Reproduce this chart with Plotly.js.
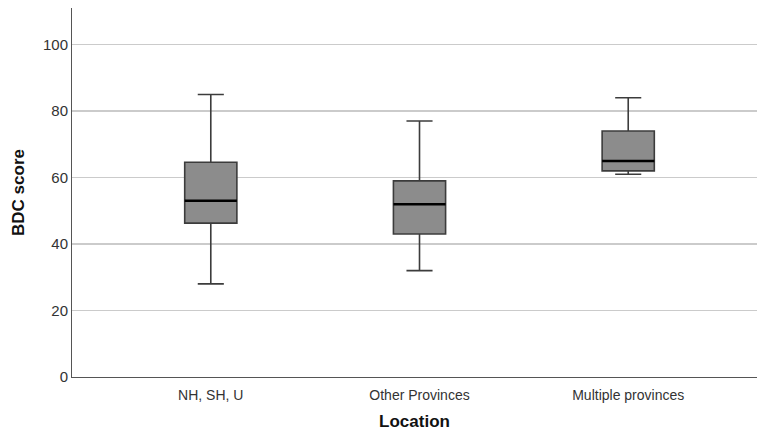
<!DOCTYPE html>
<html>
<head>
<meta charset="utf-8">
<script src="https://cdn.plot.ly/plotly-3.0.1.min.js"></script>
<style>html,body{margin:0;padding:0;background:#fff;}#chart{width:758px;height:431px;}</style>
</head>
<body>
<div id="chart"></div>
<script>
const categories = ["NH, SH, U", "Other Provinces", "Multiple provinces"];
const lowerWhisker = [28, 32, 61];
const q1Values = [46.3, 43, 62];
const medianValues = [53, 52, 65];
const q3Values = [64.6, 59, 74];
const upperWhisker = [85, 77, 84];
const yTicks = [0, 20, 40, 60, 80, 100];

const xIdx = categories.map((c, i) => i);

const boxTrace = {
  type: 'box',
  x: xIdx,
  q1: q1Values,
  median: medianValues,
  q3: q3Values,
  lowerfence: lowerWhisker,
  upperfence: upperWhisker,
  width: 0.25,
  whiskerwidth: 0.5,
  fillcolor: '#8c8c8c',
  line: {color: '#3c3c3c', width: 1.6},
  hoverinfo: 'skip',
  showlegend: false
};
const medianTrace = {
  type: 'box',
  x: xIdx,
  q1: medianValues,
  median: medianValues,
  q3: medianValues,
  lowerfence: medianValues,
  upperfence: medianValues,
  width: 0.25,
  whiskerwidth: 0,
  fillcolor: 'rgba(0,0,0,0)',
  line: {color: '#000000', width: 2.5},
  hoverinfo: 'skip',
  showlegend: false
};

const layout = {
  width: 758, height: 431,
  margin: {l: 72, r: 1, t: 8, b: 54},
  paper_bgcolor: '#fff', plot_bgcolor: '#fff',
  boxmode: 'overlay',
  font: {family: 'Liberation Sans, Arial, sans-serif', color: '#333'},
  xaxis: {
    range: [-0.665, 2.617],
    tickvals: xIdx, ticktext: categories,
    showgrid: false, zeroline: false,
    showline: true, linecolor: '#555', linewidth: 1,
    ticks: 'outside', ticklen: 5, tickcolor: 'rgba(0,0,0,0)',
    tickfont: {size: 14, color: '#333'},
    title: {text: '<b>Location</b>', font: {size: 17, color: '#111'}, standoff: 18}
  },
  yaxis: {
    range: [0, 111],
    tickvals: yTicks,
    showgrid: true, gridcolor: '#cbcbcb', gridwidth: 1.5,
    zeroline: false,
    showline: true, linecolor: '#555', linewidth: 1,
    ticks: '', tickfont: {size: 15, color: '#333'},
    title: {text: '<b>BDC score</b>', font: {size: 17, color: '#111'}, standoff: 14}
  }
};

Plotly.newPlot('chart', [boxTrace, medianTrace], layout, {staticPlot: true, displayModeBar: false});
</script>
</body>
</html>
